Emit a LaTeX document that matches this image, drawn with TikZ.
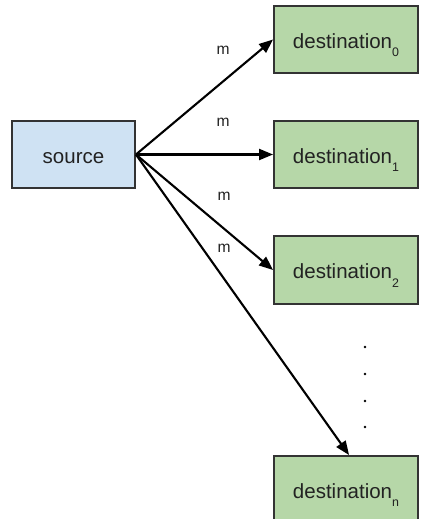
\documentclass[tikz,border=0pt]{standalone}
\usepackage{fontspec}
\setmainfont{Liberation Sans}
\usetikzlibrary{arrows.meta}
\definecolor{srcblue}{HTML}{CFE2F3}
\definecolor{dstgreen}{HTML}{B6D7A8}
\definecolor{edgegray}{HTML}{333333}
\definecolor{txt}{HTML}{222222}
\newcommand\sbs[1]{\smash{\raisebox{-0.41em}{\fontsize{6.2}{7}\selectfont #1}}}
\tikzset{
  boxbase/.style={draw=edgegray, line width=0.95pt, inner sep=0pt, text=txt,
    font=\fontsize{10.25}{12}\selectfont, minimum height=33.5pt,
    text height=8.7pt, text depth=0pt},
  srcbox/.style={boxbase, fill=srcblue, minimum width=61.5pt},
  dstbox/.style={boxbase, fill=dstgreen, minimum width=72pt},
  msg/.style={-{Triangle[length=7pt,width=5.5pt]}, line width=1.05pt, black},
  mlabel/.style={font=\fontsize{7.8}{8}\selectfont, text=txt, inner sep=0pt},
  dotmark/.style={fill=black, draw=none}
}
\begin{document}
\begin{tikzpicture}[x=0.5pt,y=-0.5pt]
\useasboundingbox (0,0) rectangle (420,519);
\clip (0,0) rectangle (420,519);
\fill[white] (0,0) rectangle (420,519);
\node[srcbox] (src) at (73.5,154.5) {source};
\node[dstbox] (d0) at (346,39.5) {destination\sbs{0}};
\node[dstbox] (d1) at (346,154.5) {destination\sbs{1}};
\node[dstbox, minimum height=34pt] (d2) at (346,270) {destination\sbs{2}};
\node[dstbox] (dn) at (346,489.5) {destination\sbs{n}};
\draw[msg] (src.east) -- (d0.west);
\draw[msg] (src.east) -- (d1.west);
\draw[msg] (src.east) -- (d2.west);
\draw[msg] (src.east) -- ([xshift=38pt]dn.north west);
\node[mlabel] (m0) at (223,50) {m};
\node[mlabel] (m1) at (223,122) {m};
\node[mlabel] (m2) at (224,196) {m};
\node[mlabel] (m3) at (224,248) {m};
\foreach \yy in {347,374,401,427} \fill[dotmark] (365,\yy) circle (0.65pt);
\end{tikzpicture}
\end{document}
